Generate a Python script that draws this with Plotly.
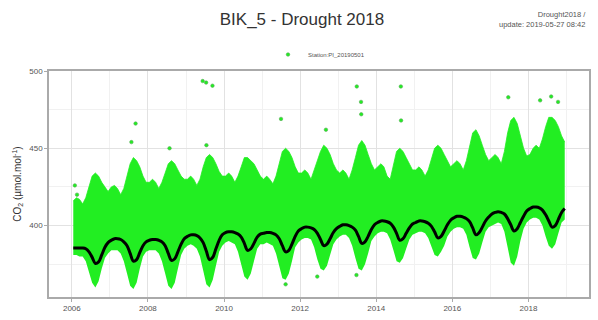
import plotly.graph_objects as go

# Monthly summary of the station record (mid-month values, ppm)
years = list(range(2006, 2019))

# Upper edge of the dense cloud of hourly values
co2_high = {
    2006: [416, 418, 417, 414, 418, 425, 432, 434, 432, 428, 425, 422],
    2007: [425, 426, 424, 420, 424, 432, 440, 444, 442, 438, 432, 428],
    2008: [428, 430, 428, 424, 428, 434, 440, 442, 440, 436, 432, 430],
    2009: [430, 432, 430, 426, 430, 438, 444, 446, 444, 440, 435, 432],
    2010: [432, 434, 432, 428, 432, 438, 444, 444, 442, 440, 436, 432],
    2011: [430, 432, 430, 427, 432, 440, 448, 450, 448, 444, 438, 434],
    2012: [434, 436, 434, 430, 436, 442, 448, 452, 450, 446, 440, 436],
    2013: [434, 436, 434, 430, 436, 444, 452, 455, 452, 446, 440, 436],
    2014: [438, 440, 438, 432, 430, 440, 448, 450, 448, 444, 440, 436],
    2015: [436, 438, 436, 432, 436, 444, 450, 452, 450, 446, 442, 438],
    2016: [440, 442, 440, 436, 442, 452, 460, 462, 458, 452, 446, 442],
    2017: [444, 446, 444, 440, 448, 460, 468, 470, 466, 458, 450, 445],
    2018: [446, 450, 452, 450, 456, 464, 470, 470, 468, 464, 458, 454],
}

# Lower edge of the hourly values
co2_low = {
    2006: [381, 381, 380, 380, 377, 370, 363, 360, 364, 372, 379, 382],
    2007: [384, 384, 384, 382, 377, 369, 361, 359, 363, 372, 380, 383],
    2008: [384, 384, 384, 382, 377, 369, 361, 359, 363, 372, 381, 385],
    2009: [387, 388, 387, 385, 380, 371, 362, 360, 365, 374, 383, 387],
    2010: [389, 390, 389, 388, 383, 375, 367, 365, 369, 377, 385, 388],
    2011: [388, 389, 388, 387, 382, 374, 366, 365, 369, 377, 386, 389],
    2012: [391, 392, 392, 391, 386, 378, 372, 371, 374, 381, 388, 391],
    2013: [393, 394, 394, 392, 387, 379, 372, 371, 375, 382, 390, 393],
    2014: [395, 396, 396, 395, 391, 384, 377, 376, 379, 385, 391, 394],
    2015: [395, 396, 396, 395, 392, 386, 381, 380, 383, 387, 393, 396],
    2016: [398, 399, 399, 398, 394, 386, 379, 378, 382, 389, 396, 399],
    2017: [400, 401, 402, 401, 396, 386, 376, 374, 380, 390, 398, 402],
    2018: [404, 405, 405, 404, 400, 393, 387, 385, 388, 395, 402, 404],
}

# Smoothed curve
co2_smooth = {
    2006: [385.5, 385.5, 385.5, 385.5, 385.0, 383.0, 379.5, 375.5, 376.5, 381.0, 386.0, 389.0],
    2007: [390.5, 391.5, 391.5, 391.0, 389.5, 387.0, 382.0, 377.0, 378.0, 382.5, 387.0, 389.5],
    2008: [390.5, 391.0, 391.0, 390.5, 389.5, 387.0, 382.0, 377.5, 378.5, 383.0, 388.0, 391.5],
    2009: [393.0, 394.0, 394.0, 393.5, 392.0, 389.0, 383.5, 378.0, 379.5, 385.0, 390.5, 394.0],
    2010: [395.5, 396.0, 396.0, 395.5, 394.5, 392.5, 388.5, 384.0, 385.0, 388.5, 392.5, 394.5],
    2011: [395.0, 395.5, 395.5, 395.0, 394.0, 391.5, 387.0, 383.0, 384.0, 388.0, 393.0, 396.5],
    2012: [398.0, 399.0, 399.0, 398.5, 397.5, 395.0, 391.0, 387.0, 388.0, 391.5, 395.5, 398.0],
    2013: [399.5, 400.5, 400.5, 400.0, 399.0, 397.0, 393.0, 388.5, 389.5, 393.0, 397.5, 400.5],
    2014: [402.0, 403.0, 403.0, 402.5, 401.5, 399.0, 395.0, 390.5, 391.5, 395.0, 398.5, 401.0],
    2015: [402.0, 403.0, 403.0, 402.5, 401.5, 399.5, 396.0, 392.0, 393.0, 396.5, 400.5, 403.5],
    2016: [405.0, 406.0, 406.0, 405.5, 404.5, 402.5, 398.5, 394.0, 395.5, 399.0, 403.0, 405.5],
    2017: [407.5, 408.5, 409.0, 408.5, 407.5, 404.5, 400.5, 396.5, 398.0, 402.0, 406.0, 409.5],
    2018: [411.0, 412.0, 412.0, 411.5, 410.0, 407.0, 403.0, 399.0, 400.0, 404.0, 408.5, 411.0],
}

# Isolated hourly values outside the dense cloud
spike_dates = [
    "2006-01-30", "2006-02-20", "2007-07-27", "2007-09-05", "2008-07-27",
    "2009-06-10", "2009-07-13", "2009-09-12", "2009-07-16", "2011-07-02",
    "2012-09-05", "2013-06-28", "2013-08-08", "2013-08-10", "2014-08-25",
    "2014-08-27", "2017-06-21", "2018-04-23", "2018-08-07", "2018-10-12",
    "2011-08-15", "2012-06-14", "2013-06-25",
]
spike_values = [
    426, 420, 454, 466, 450,
    493.5, 492.5, 490.5, 452, 469,
    462, 490, 480, 472, 490,
    468, 483, 481, 483.5, 480,
    362, 367, 368,
]

months = [f"{y}-{m:02d}-15" for y in years for m in range(1, 13)]
high = [v for y in years for v in co2_high[y]]
low = [v for y in years for v in co2_low[y]]
smooth = [v for y in years for v in co2_smooth[y]]

GREEN = "#22ee22"

fig = go.Figure()
fig.add_trace(go.Scatter(x=months, y=low, mode="lines", line=dict(width=0, color=GREEN),
                         showlegend=False, hoverinfo="skip"))
fig.add_trace(go.Scatter(x=months, y=high, mode="lines", line=dict(width=0.8, color=GREEN),
                         fill="tonexty", fillcolor=GREEN, showlegend=False))
fig.add_trace(go.Scatter(x=spike_dates, y=spike_values, mode="markers",
                         marker=dict(size=3.5, color=GREEN, line=dict(width=0.6, color="#55aa55")),
                         name="Station:PI_20190501", showlegend=True))
fig.add_trace(go.Scatter(x=months, y=smooth, mode="lines", line=dict(width=3, color="black", shape="spline"),
                         showlegend=False))

axis_font = dict(family="Liberation Sans, Arial, sans-serif", size=8, color="#555555")

fig.update_layout(
    width=598, height=320,
    margin=dict(l=49, r=7, t=71, b=17),
    paper_bgcolor="white", plot_bgcolor="white",
    font=dict(family="Liberation Sans, Arial, sans-serif", color="#333333"),
    title=dict(text="BIK_5 - Drought 2018", x=0.505, xanchor="center", y=0.942, yanchor="middle",
               font=dict(size=17, color="#333333")),
    legend=dict(orientation="h", x=0.5, xanchor="center", y=1.073, yanchor="middle",
                font=dict(size=6, color="#555555"), bgcolor="rgba(0,0,0,0)", itemwidth=30),
    xaxis=dict(
        type="date", range=["2005-05-27", "2019-08-05"],
        tick0="2006-01-01", dtick="M24", tickformat="%Y",
        showgrid=True, gridcolor="#e2e2e2", gridwidth=1,
        minor=dict(dtick="M12", showgrid=True, gridcolor="#f1f1f1"),
        showline=True, linecolor="#aaaaaa", linewidth=1.5, mirror=True,
        ticks="outside", ticklen=3, tickcolor="#aaaaaa",
        tickfont=axis_font, zeroline=False,
    ),
    yaxis=dict(
        range=[353.8, 500], tickvals=[400, 450, 500],
        showgrid=True, gridcolor="#e2e2e2", gridwidth=1,
        minor=dict(tickvals=[375, 425, 475], showgrid=True, gridcolor="#f1f1f1"),
        showline=True, linecolor="#aaaaaa", linewidth=1.5, mirror=True,
        ticks="outside", ticklen=3, tickcolor="#aaaaaa",
        tickfont=axis_font, zeroline=False,
        title=dict(text="CO<sub>2</sub> (µmol.mol<sup>-1</sup>)", font=dict(size=10, color="#333333"),
                   standoff=6),
    ),
    annotations=[
        dict(text="Drought2018 /<br>update: 2019-05-27 08:42", xref="paper", yref="paper",
             x=0.998, y=1.23, xanchor="right", yanchor="middle", align="right", showarrow=False,
             font=dict(size=7.5, color="#555555")),
    ],
)

fig.write_html("out.html")
